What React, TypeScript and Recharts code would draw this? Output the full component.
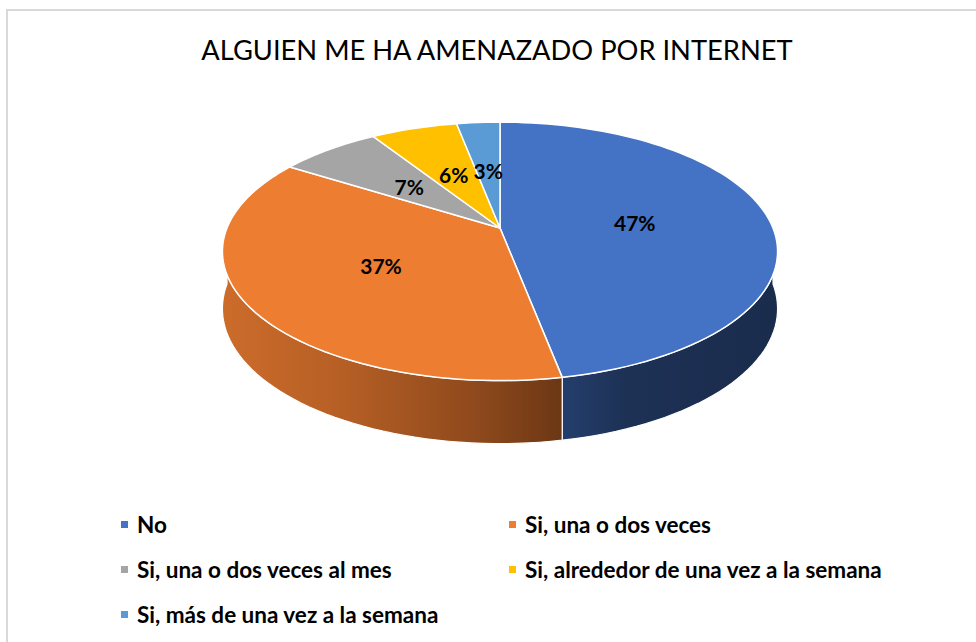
import React from 'react'
import { PieChart, Pie, Cell, Legend } from 'recharts'

const CATEGORIES = [
  'No',
  'Si, una o dos veces',
  'Si, una o dos veces al mes',
  'Si, alrededor de una vez a la semana',
  'Si, más de una vez a la semana',
]
const VALUES = [47, 37, 7, 6, 3]
const TOP_COLORS = ['#4472C4', '#ED7D31', '#A5A5A5', '#FFC000', '#5B9BD5']
const SIDE_FILLS = ['url(#sideBlue)', 'url(#sideOrange)', '#7c7c7c', '#bf9000', '#41719c']

const data = CATEGORIES.map((name, i) => ({ name, value: VALUES[i] }))

// disc tilt: vertical squash and perspective strength
const SQUASH = 125 / 273
const K = 0.181

function project(cx: number, cy: number, rx: number, a: number, f = 1) {
  const r = (a * Math.PI) / 180
  const c = Math.cos(r) * f
  const s = Math.sin(r) * f
  const w = 1 + K * s
  return [cx + (rx * c) / w, cy - (rx * SQUASH * s) / w]
}

function TopSector(props: any) {
  const { cx, cy, outerRadius, startAngle, endAngle, fill } = props
  const steps = Math.max(2, Math.ceil(Math.abs(startAngle - endAngle) / 2))
  let d = `M${cx},${cy}`
  for (let i = 0; i <= steps; i++) {
    const a = startAngle + ((endAngle - startAngle) * i) / steps
    const [x, y] = project(cx, cy, outerRadius, a)
    d += `L${x.toFixed(2)},${y.toFixed(2)}`
  }
  d += 'Z'
  return <path d={d} fill={fill} stroke="#fff" strokeWidth={1.5} strokeLinejoin="round" />
}

// front wall of a slice (only the part facing the viewer)
function SideWall(props: any) {
  const { cx, cy, outerRadius, startAngle, endAngle, fill } = props
  const hi = Math.min(Math.max(startAngle, endAngle), 0)
  const lo = Math.max(Math.min(startAngle, endAngle), -180)
  if (hi <= lo) return <g />
  const steps = Math.max(2, Math.ceil((hi - lo) / 2))
  const top: number[][] = []
  const bottom: number[][] = []
  for (let i = 0; i <= steps; i++) {
    const a = hi - ((hi - lo) * i) / steps
    const [x, y] = project(cx, cy, outerRadius, a)
    const depth = 56 - 7 * Math.sin((a * Math.PI) / 180)
    top.push([x, y])
    bottom.push([x, y + depth])
  }
  const pts = [...top, ...bottom.reverse()]
  const d = 'M' + pts.map(p => `${p[0].toFixed(2)},${p[1].toFixed(2)}`).join('L') + 'Z'
  return <path d={d} fill={fill} stroke="#fff" strokeWidth={1.2} strokeLinejoin="round" />
}

const renderLabel = (props: any) => {
  const { cx, cy, outerRadius, midAngle, percent } = props
  const [x, y] = project(cx, cy, outerRadius, midAngle, 0.5)
  return (
    <text x={x} y={y} textAnchor="middle" dominantBaseline="central"
      fill="#000" fontSize={21} fontWeight={700} fontFamily="Lato, sans-serif">
      {`${Math.round(percent * 100)}%`}
    </text>
  )
}

function LegendGrid() {
  return (
    <div style={{ display: 'grid', gridTemplateColumns: '388px 388px', fontFamily: 'Lato, sans-serif', fontWeight: 700, fontSize: 22.5, color: '#000' }}>
      {CATEGORIES.map((name, i) => (
        <div key={name} style={{ height: 45, display: 'flex', alignItems: 'center', whiteSpace: 'nowrap' }}>
          <span style={{ width: 7, height: 7, background: TOP_COLORS[i], marginRight: 9, flex: 'none' }} />
          <span>{name}</span>
        </div>
      ))}
    </div>
  )
}

export default function App() {
  return (
    <div style={{ position: 'absolute', left: 0, top: 0, width: 976, height: 642, overflow: 'hidden', background: '#fff' }}>
      <div style={{ position: 'absolute', left: 6, top: 9, width: 1100, height: 800, border: '2px solid #d9d9d9' }} />
      <div style={{ position: 'absolute', left: 0, top: 32, width: 994, textAlign: 'center', fontFamily: 'Lato, sans-serif', fontSize: 27.3, lineHeight: '36px', color: '#000' }}>
        ALGUIEN ME HA AMENAZADO POR INTERNET
      </div>
      <div style={{ position: 'absolute', left: 0, top: 0 }}>
        <PieChart width={976} height={642} margin={{ top: 0, right: 0, bottom: 0, left: 0 }}>
          <defs>
            <linearGradient id="sideOrange" x1="0" y1="0" x2="1" y2="0">
              <stop offset="0" stopColor="#cc6c2b" />
              <stop offset="0.35" stopColor="#b65f25" />
              <stop offset="0.75" stopColor="#8e491c" />
              <stop offset="1" stopColor="#6c3715" />
            </linearGradient>
            <linearGradient id="sideBlue" x1="0" y1="0" x2="1" y2="0">
              <stop offset="0" stopColor="#243e6c" />
              <stop offset="0.3" stopColor="#1d3155" />
              <stop offset="1" stopColor="#1a2c4c" />
            </linearGradient>
          </defs>
          <Pie data={data} dataKey="value" nameKey="name" cx={500} cy={228} outerRadius={273}
            startAngle={90} endAngle={-270} shape={SideWall} legendType="none"
            isAnimationActive={false} label={false} labelLine={false} stroke="none">
            {data.map((d, i) => <Cell key={d.name} fill={SIDE_FILLS[i]} />)}
          </Pie>
          <Pie data={data} dataKey="value" nameKey="name" cx={500} cy={228} outerRadius={273}
            startAngle={90} endAngle={-270} shape={TopSector}
            isAnimationActive={false} label={renderLabel} labelLine={false} stroke="#fff">
            {data.map((d, i) => <Cell key={d.name} fill={TOP_COLORS[i]} />)}
          </Pie>
          <Legend content={() => <LegendGrid />}
            wrapperStyle={{ position: 'absolute', left: 121, top: 502, width: 800, bottom: 'auto' }} />
        </PieChart>
      </div>
    </div>
  )
}
